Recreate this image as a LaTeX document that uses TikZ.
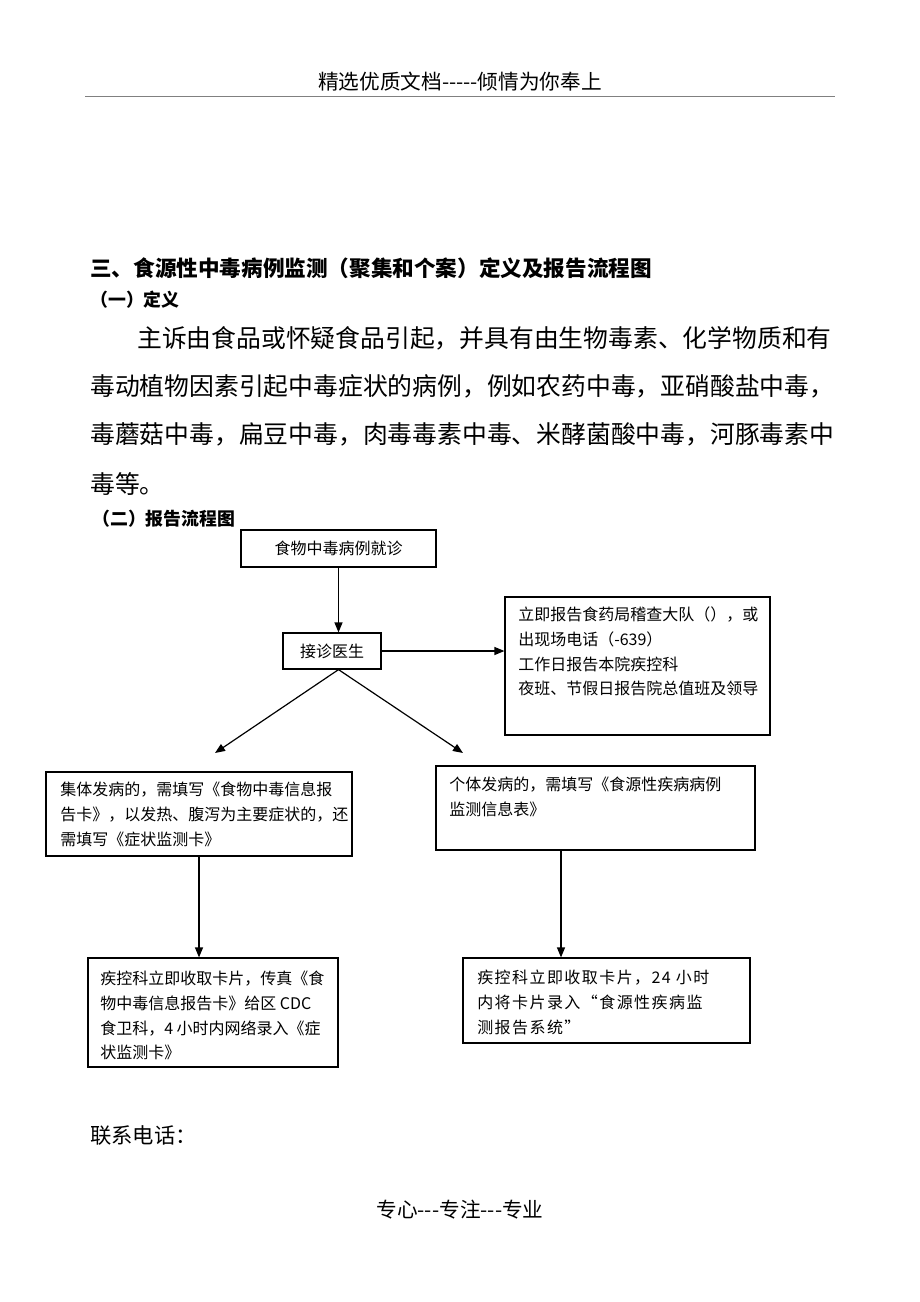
\documentclass[tikz,border=0pt]{standalone}
\usepackage{fontspec}
\setmainfont{Noto Sans CJK SC}[Ligatures=TeXOff]
\usetikzlibrary{arrows.meta, fit}
\tikzset{
  box/.style={draw, line width=0.9pt, inner sep=0pt},
  boxtext/.style={align=left, inner sep=0pt, anchor=north west, font=\fontsize{12}{18.5}\selectfont},
  para/.style={anchor=west, inner sep=0pt, font=\fontsize{18.6}{20}\selectfont},
  flow/.style={-{Triangle[length=7.5pt,width=6pt]}, line width=0.9pt},
}

\begin{document}
\begin{tikzpicture}[x=0.75pt, y=-0.75pt]
\useasboundingbox (0,0) rectangle (920,1302);
\node(head) at (460,82) {\fontsize{15.5}{16}\selectfont 精选优质文档-----倾情为你奉上};
\coordinate (rulel) at (85,96);
\coordinate (ruler) at (835,96);
\draw[gray, line width=0.6pt] (rulel) -- (ruler);
%
\node(title) [anchor=west, inner sep=0pt] at (90,268) {\fontsize{16.2}{17}\selectfont\bfseries 三、食源性中毒病例监测（聚集和个案）定义及报告流程图};
\node(def) [anchor=west, inner sep=0pt] at (90,300) {\fontsize{13.4}{14}\selectfont\bfseries （一）定义};
\node(p1) [para] at (137,338) {主诉由食品或怀疑食品引起，并具有由生物毒素、化学物质和有};
\node(p2) [para] at (90,386) {毒动植物因素引起中毒症状的病例，例如农药中毒，亚硝酸盐中毒，};
\node(p3) [para] at (90,434) {毒蘑菇中毒，扁豆中毒，肉毒毒素中毒、米酵菌酸中毒，河豚毒素中};
\node(p4) [para] at (90,484) {毒等。};
\node(chart) [anchor=west, inner sep=0pt] at (92,519) {\fontsize{13.4}{14}\selectfont\bfseries （二）报告流程图};
%
\node(visit) [box, fit={(241,530) (436,567)}] {};
\node[inner sep=0pt, font=\fontsize{12}{12}\selectfont] at (visit.center) {食物中毒病例就诊};
\node(doctor) [box, fit={(283,633) (381,669)}] {};
\node[inner sep=0pt, font=\fontsize{12}{12}\selectfont] at (doctor.center) {接诊医生};
\node(report) [box, fit={(505,597) (770,735)}] {};
\node[boxtext] at (518,607) {立即报告食药局稽查大队（），或\\出现场电话（-639）\\工作日报告本院疾控科\\夜班、节假日报告院总值班及领导};
\node(group) [box, fit={(46,772) (352,856)}] {};
\node[boxtext] at (60,782) {集体发病的，需填写《食物中毒信息报\\告卡》，以发热、腹泻为主要症状的，还\\需填写《症状监测卡》};
\node(single) [box, fit={(436,766) (755,850)}] {};
\node[boxtext] at (449,777) {个体发病的，需填写《食源性疾病病例\\监测信息表》};
\node(groupcdc) [box, fit={(88,958) (338,1067)}] {};
\node[boxtext] at (100,971) {疾控科立即收取卡片，传真《食\\物中毒信息报告卡》给区 CDC\\食卫科，4 小时内网络录入《症\\状监测卡》};
\node(singlecdc) [box, fit={(463,958) (750,1043)}] {};
\node[boxtext, font=\fontsize{12}{18.5}\selectfont\addfontfeature{LetterSpace=9}] at (477,970) {疾控科立即收取卡片，24 小时\\内将卡片录入“食源性疾病监\\测报告系统”};
%
\coordinate (lefttip) at (215,753);
\coordinate (righttip) at (463,753);
\coordinate (singledrop) at (561,850);
\draw[flow] (visit.south) -- (visit.south |- doctor.north);
\draw[flow] (doctor.east) -- (doctor.east -| report.west);
\draw[flow] (visit.south |- doctor.south) -- (lefttip);
\draw[flow] (visit.south |- doctor.south) -- (righttip);
\draw[flow] (group.south) -- (group.south |- groupcdc.north);
\draw[flow] (singledrop) -- (singledrop |- singlecdc.north);
%
\node(phone) [anchor=west, inner sep=0pt] at (90,1135) {\fontsize{16}{16}\selectfont 联系电话：};
\node(foot) at (460,1210) {\fontsize{15.5}{16}\selectfont 专心---专注---专业};
\end{tikzpicture}
\end{document}
